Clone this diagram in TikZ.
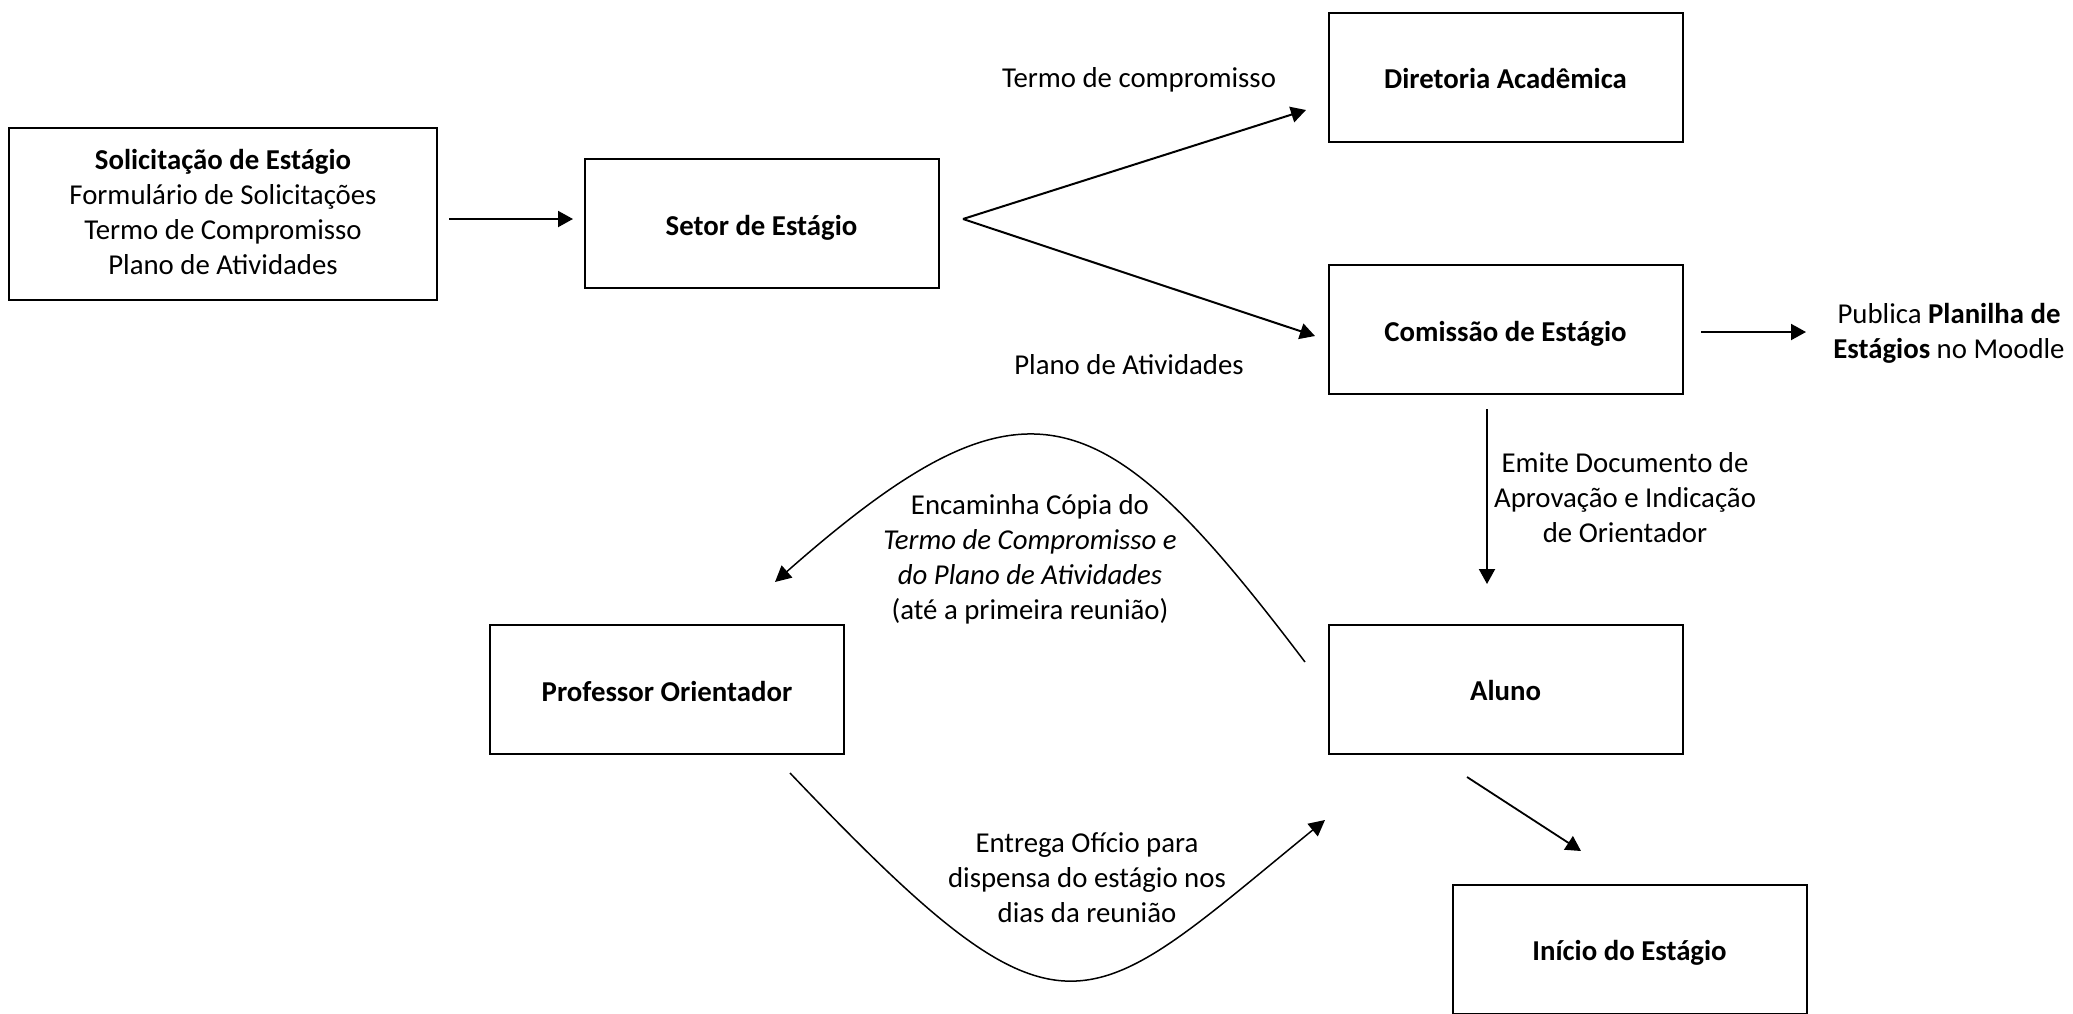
\documentclass[tikz,border=0pt]{standalone}
\usepackage{fontspec}
\setmainfont{Carlito}
\usetikzlibrary{arrows.meta,calc}
\begin{document}
\begin{tikzpicture}[x=0.5pt,y=-0.5pt,
  every node/.style={font=\fontsize{14.4pt}{17.5pt}\selectfont, align=center, inner sep=0pt},
  box/.style={draw, line width=1pt, minimum width=177pt, minimum height=64.5pt},
  bbox/.style={box, text height=13pt, text depth=1.2pt, font=\fontsize{14.4pt}{17.5pt}\selectfont\bfseries},
  arr/.style={line width=1pt, -{Triangle[length=7.5pt,width=8pt]}},
  carr/.style={line width=0.75pt, -{Triangle[length=8pt,width=8pt]}}]
\useasboundingbox (0,0) rectangle (2073,1013);

% boxes
\node[box, minimum width=214pt, minimum height=86pt] (sol) at (223,214) {};
\node (soltxt) at (223,212)
  {\textbf{Solicitação de Estágio}\\Formulário de Solicitações\\Termo de Compromisso\\Plano de Atividades};
\node[bbox] (setor) at (761.5,223.5) {Setor de Estágio};
\node[bbox] (dir) at (1505.5,77) {Diretoria Acadêmica};
\node[bbox] (com) at (1505.5,329.5) {Comissão de Estágio};
\node[bbox] (aluno) at (1505.5,689) {Aluno};
\node[bbox] (prof) at (667,689.5) {Professor Orientador};
\node[bbox] (ini) at (1629.5,949) {Início do Estágio};

% labels
\node (ltermo) at (1139,79.5) {Termo de compromisso};
\node (lplano) at (1129,365) {Plano de Atividades};
\node (pub) at (1949,333) {Publica \textbf{Planilha de}\\\textbf{Estágios} no Moodle};
\node (lemite) at (1625,498) {Emite Documento de\\Aprovação e Indicação\\de Orientador};
\node (lenc) at (1030,559) {Encaminha Cópia do\\\textit{Termo de Compromisso e}\\\textit{do Plano de Atividades}\\(até a primeira reunião)};
\node (lent) at (1087,878) {Entrega Ofício para\\dispensa do estágio nos\\dias da reunião};

% connector end points
\coordinate (a1s) at (449,219);
\coordinate (a1e) at (573,219);
\coordinate (fan) at (963,219);
\coordinate (fanA) at (1306,110);
\coordinate (fanB) at (1315,336);
\coordinate (pubS) at (1701,332);
\coordinate (pubE) at (1806,332);
\coordinate (vS) at (1487,409);
\coordinate (vE) at (1487,584);
\coordinate (encS) at (1305,662);
\coordinate (encE) at (775,582);
\coordinate (entS) at (790,773);
\coordinate (entE) at (1325,820);
\coordinate (dS) at (1467,777);
\coordinate (dE) at (1581,851);

% connectors
\draw[arr] (a1s) -- (a1e);
\draw[arr] (fan) -- (fanA);
\draw[arr] (fan) -- (fanB);
\draw[arr] (pubS) -- (pubE);
\draw[arr] (vS) -- (vE);
\draw[carr] (encS) .. controls (1102,394) and (1027,360) .. (encE);
\draw[carr] (entS) .. controls (1066,1063) and (1081,1019) .. (entE);
\draw[arr, line width=0.9pt] (dS) -- (dE);
\end{tikzpicture}
\end{document}
